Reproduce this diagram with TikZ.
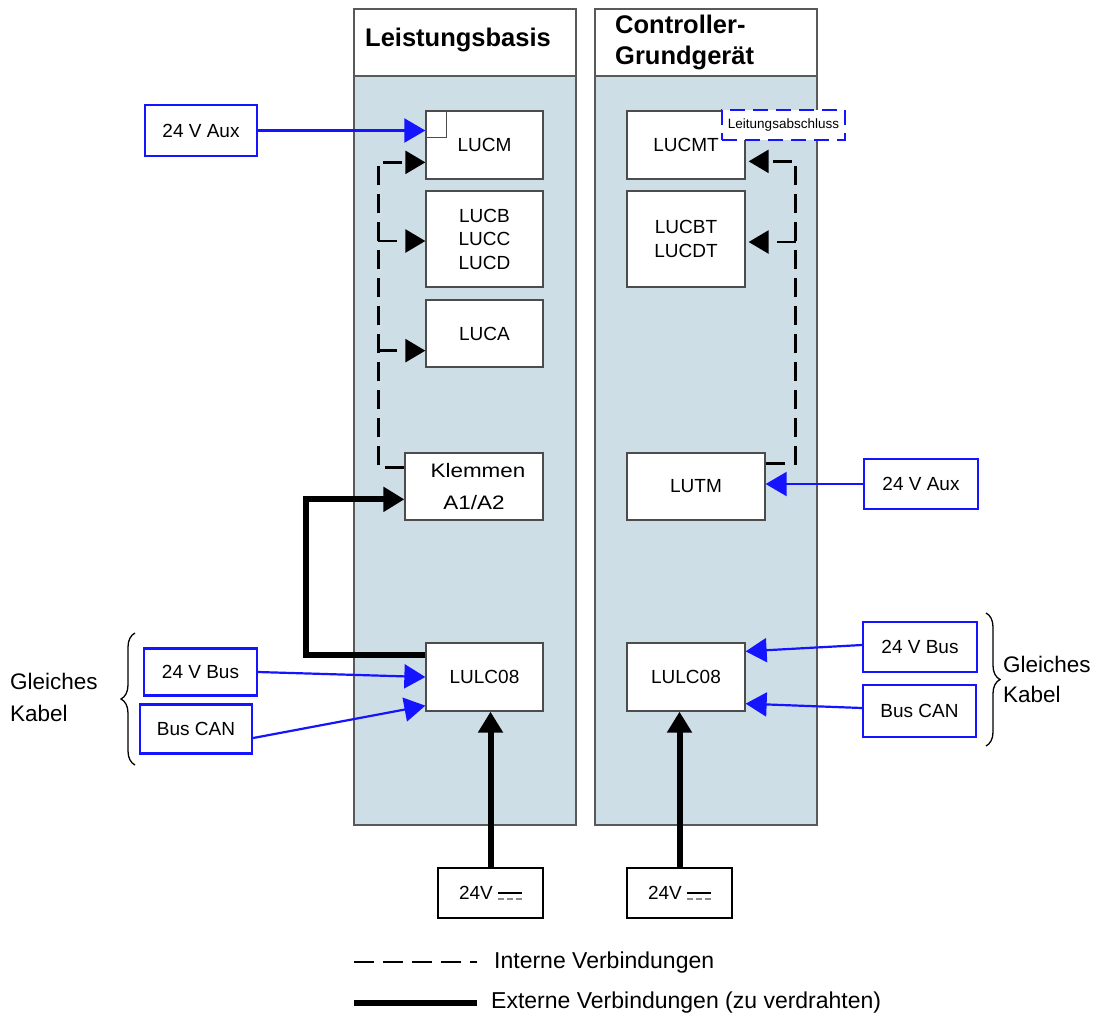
\documentclass[tikz,border=0pt]{standalone}
\usepackage{fontspec}
\usepackage{graphicx}
\setmainfont{Liberation Sans}
\usetikzlibrary{arrows.meta,calc,decorations.pathreplacing}
\definecolor{panelblue}{HTML}{CEDEE6}
\definecolor{myblue}{RGB}{20,20,255}
\newcommand{\lbl}{\fontsize{19}{23.5}\selectfont}
\newcommand{\dcsym}{\hspace{5pt}\rlap{\rule[6pt]{24pt}{1.2pt}}\textcolor{black!45}{\rule{6pt}{1.2pt}\hspace{3pt}\rule{6pt}{1.2pt}\hspace{3pt}\rule{6pt}{1.2pt}}}
\begin{document}
\begin{tikzpicture}[x=1pt,y=-1pt,
 box/.style={draw=black!70, line width=1.3pt, fill=white, inner sep=0pt, align=center, font=\lbl},
 bbox/.style={draw=myblue, line width=2.3pt, fill=white, inner sep=0pt, align=center, font=\lbl},
 dcbox/.style={draw=black, line width=2pt, fill=white, inner sep=0pt, font=\lbl},
 bluearrow/.style={draw=myblue, line width=2.2pt, -{Triangle[length=21pt,width=24pt]}},
 extarrow/.style={line width=6pt, -{Triangle[length=21pt,width=24pt]}},
 intern/.style={line width=2.6pt, dash pattern=on 19pt off 9pt, -{Triangle[length=20pt,width=23pt]}},
 panel/.style={draw=black!65, line width=1.2pt},
 titlefont/.style={font=\fontsize{25.5}{31}\selectfont\bfseries, inner sep=0pt, anchor=base west},
 legfont/.style={font=\fontsize{23}{27}\selectfont, inner sep=0pt, anchor=west},
 sidefont/.style={font=\fontsize{22.5}{32}\selectfont, inner sep=0pt, align=left, anchor=west},
 bracestyle/.style={decorate, decoration={brace, amplitude=14pt}, line width=1.3pt},
]
\useasboundingbox (0,0) rectangle (1103,1021);
\fill[white] (0,0) rectangle (1103,1021);

% panels
\filldraw[panel, fill=panelblue] (354,76) rectangle (576,825);
\draw[panel, fill=white] (354,9) rectangle (576,76);
\filldraw[panel, fill=panelblue] (595,76) rectangle (817,825);
\draw[panel, fill=white] (595,9) rectangle (817,76);

\node[titlefont] (t1) at (365,46) {Leistungsbasis};
\node[titlefont] (t2a) at (615,33) {Controller-};
\node[titlefont] (t2b) at (615,64) {Grundgerät};

% left modules
\node[box, minimum width=117pt, minimum height=68pt] (lucm) at (484.5,145) {LUCM};
\draw[black!70, line width=0.9pt] (lucm.north west) rectangle ++(21,27);
\node[box, minimum width=117pt, minimum height=96pt] (lucb) at (484.5,239) {LUCB\\LUCC\\LUCD};
\node[box, minimum width=117pt, minimum height=67pt] (luca) at (484.5,333.5) {LUCA};
\node[box, minimum width=138pt, minimum height=67pt, font=\fontsize{19.5}{32}\selectfont] (klem) at (474,486.5) {\hspace*{8pt}\scalebox{1.15}[1]{Klemmen}\\\scalebox{1.15}[1]{A1/A2}};
\node[box, minimum width=117pt, minimum height=68pt] (lulcL) at (484.5,677) {LULC08};
\node[dcbox, minimum width=105pt, minimum height=50pt] (v24L) at (490.5,893) {24V\dcsym};

% right modules
\node[box, minimum width=118pt, minimum height=68pt] (lucmt) at (686,145) {LUCMT};
\node[box, minimum width=118pt, minimum height=96pt] (lucbt) at (686,239) {LUCBT\\LUCDT};
\node[box, minimum width=138pt, minimum height=67pt] (lutm) at (696,486.5) {LUTM};
\node[box, minimum width=118pt, minimum height=68pt] (lulcR) at (686,677) {LULC08};
\node[dcbox, minimum width=105pt, minimum height=50pt] (v24R) at (679.5,893) {24V\dcsym};
\node[draw=myblue, line width=2.3pt, dash pattern=on 15pt off 8pt, fill=white, inner sep=0pt,
      minimum width=123pt, minimum height=30pt, font=\fontsize{13.5}{16}\selectfont] (term) at (783.5,125) {Leitungsabschluss};

% external blue boxes
\node[bbox, minimum width=112pt, minimum height=51pt] (auxL) at (201,130.5) {24 V Aux};
\node[bbox, minimum width=114pt, minimum height=50pt] (auxR) at (921,484) {24 V Aux};
\node[bbox, minimum width=113pt, minimum height=47pt] (busL) at (200.5,672) {24 V Bus};
\node[bbox, minimum width=112pt, minimum height=49pt] (canL) at (196,729) {Bus CAN};
\node[bbox, minimum width=114pt, minimum height=50pt] (busR) at (920,647) {24 V Bus};
\node[bbox, minimum width=113pt, minimum height=52pt] (canR) at (919.5,711) {Bus CAN};

% side labels and braces
\node[sidefont] (gkL) at (10,697) {Gleiches\\Kabel};
\node[sidefont, font=\fontsize{22.5}{30}\selectfont] (gkR) at (1003,679) {Gleiches\\Kabel};
\draw[bracestyle] (135,765) -- (135,633);
\draw[bracestyle] (986,613) -- (986,746);

% blue connectors
\draw[bluearrow] (auxL.east) -- (auxL.east -| lucm.west);
\draw[bluearrow] (auxR.west) -- (auxR.west -| lutm.east);
\draw[bluearrow] (busL.east) -- (lulcL.west);
\draw[bluearrow] ($(canL.east)+(0,9)$) -- ($(lulcL.south west)+(0,-6)$);
\draw[bluearrow] ($(busR.west)+(0,-2)$) -- ($(lulcR.north east)+(0,9)$);
\draw[bluearrow] ($(canR.west)+(0,-3)$) -- ($(lulcR.south east)+(0,-8)$);

% internal connectors (left)
\draw[intern] ($(klem.north west)+(0,15)$) -| ($(lucm.north west)+(-47,52)$) -- ($(lucm.north west)+(0,52)$);
\draw[intern] ($(lucb.west)+(-47,2)$) -- ($(lucb.west)+(0,2)$);
\draw[intern] ($(luca.south west)+(-47,-17)$) -- ($(luca.south west)+(0,-17)$);

% internal connectors (right)
\draw[intern] ($(lutm.north east)+(0,11)$) -| ($(lucmt.north east)+(50,51)$) -- ($(lucmt.north east)+(3,51)$);
\draw[intern] ($(lucbt.east)+(50,3)$) -- ($(lucbt.east)+(3,3)$);

% external connectors
\draw[extarrow] ($(lulcL.north west)+(0,13)$) -| ($(klem.north west)+(-98,47)$) -- ($(klem.north west)+(0,47)$);
\draw[extarrow] (v24L.north) -- (v24L.north |- lulcL.south);
\draw[extarrow] (v24R.north) -- (v24R.north |- lulcR.south);

% legend
\coordinate (ld1) at (354,962);
\coordinate (ld2) at (477,962);
\coordinate (ls1) at (354,1003);
\coordinate (ls2) at (477,1003);
\draw[line width=2.6pt, dash pattern=on 20pt off 9pt] (ld1) -- (ld2);
\draw[line width=6pt] (ls1) -- (ls2);
\node[legfont] (legI) at (494,963) {Interne Verbindungen};
\node[legfont] (legE) at (491,1003) {Externe Verbindungen (zu verdrahten)};
\end{tikzpicture}
\end{document}
